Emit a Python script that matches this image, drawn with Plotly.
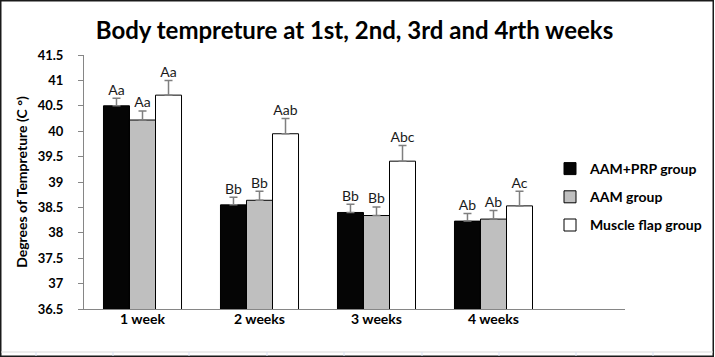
import plotly.graph_objects as go

categories = ["1 week", "2 weeks", "3 weeks", "4 weeks"]
series_names = ["AAM+PRP group", "AAM group", "Muscle flap group"]
aam_prp = [40.50, 38.55, 38.40, 38.23]
aam = [40.22, 38.64, 38.34, 38.27]
muscle = [40.71, 39.95, 39.41, 38.53]
aam_prp_err = [0.15, 0.15, 0.16, 0.15]
aam_err = [0.18, 0.18, 0.17, 0.17]
muscle_err = [0.29, 0.30, 0.31, 0.29]
aam_prp_lbl = ["Aa", "Bb", "Bb", "Ab"]
aam_lbl = ["Aa", "Bb", "Bb", "Ab"]
muscle_lbl = ["Aa", "Aab", "Abc", "Ac"]
y_ticks = [36.5, 37, 37.5, 38, 38.5, 39, 39.5, 40, 40.5, 41, 41.5]

values = [aam_prp, aam, muscle]
errors = [aam_prp_err, aam_err, muscle_err]
labels = [aam_prp_lbl, aam_lbl, muscle_lbl]
fills = ["#050505", "#BFBFBF", "#FFFFFF"]

FONT = "Lato"
fig = go.Figure()
for i, name in enumerate(series_names):
    fig.add_trace(go.Bar(
        x=categories, y=values[i], name=name,
        offsetgroup=str(i), legendgroup=str(i),
        marker=dict(color=fills[i], line=dict(color="#000000", width=1)),
        error_y=dict(type="data", array=errors[i], symmetric=False,
                     arrayminus=[0] * len(categories),
                     color="#7F7F7F", thickness=1.5, width=4),
    ))
for i, name in enumerate(series_names):
    tops = [v + e for v, e in zip(values[i], errors[i])]
    fig.add_trace(go.Scatter(
        x=categories, y=tops, mode="text", text=labels[i],
        textposition="top center", offsetgroup=str(i),
        textfont=dict(family=FONT, size=14, color="#1a1a1a"),
        showlegend=False, hoverinfo="skip", cliponaxis=False,
    ))

L, R, T, B = 84, 90, 55, 48
W, H = 715, 357
pw, ph = W - L - R, H - T - B

def px(x):
    return (x - L) / pw

def py(y):
    return (H - B - y) / ph

shapes = [
    dict(type="rect", xref="paper", yref="paper",
         x0=px(0.75), x1=px(W - 1.75), y0=py(H - 0.75), y1=py(0.75),
         line=dict(color="#1a1a1a", width=1.5), layer="below"),
    dict(type="line", xref="paper", yref="paper",
         x0=px(1), x1=px(W - 2), y0=py(352), y1=py(352),
         line=dict(color="#D9D9D9", width=1)),
]
for gx in [36, 113, 189, 267, 344, 422, 499, 576, 653]:
    shapes.append(dict(type="line", xref="paper", yref="paper",
                       x0=px(gx), x1=px(gx), y0=py(352), y1=py(356),
                       line=dict(color="#D9E1F2", width=1)))

fig.update_layout(
    width=W, height=H,
    margin=dict(l=L, r=R, t=T, b=B, autoexpand=False),
    paper_bgcolor="white", plot_bgcolor="white",
    barmode="group", bargap=0.333, bargroupgap=0,
    scattermode="group", scattergap=0.333,
    font=dict(family=FONT, color="#000000"),
    title=dict(text="<b>Body tempreture at 1st, 2nd, 3rd and 4rth weeks</b>",
               x=0.5, xref="paper", xanchor="center",
               y=1 - 31 / H, yanchor="middle",
               font=dict(family=FONT, size=24, color="#000000")),
    xaxis=dict(type="category", range=[-0.5, 4.124], showline=True,
               linecolor="#868686", linewidth=1, ticks="", ticklen=0,
               ticklabelstandoff=-3,
               showgrid=False, zeroline=False,
               tickfont=dict(family=FONT, size=14, color="#000000", weight="bold"),
               fixedrange=True),
    yaxis=dict(range=[36.5, 41.5], tickvals=y_ticks,
               ticktext=[f"{t:g}" for t in y_ticks],
               showline=True, linecolor="#868686", linewidth=1,
               ticks="outside", ticklen=5, tickcolor="#868686",
               ticklabelstandoff=12,
               showgrid=False, zeroline=False,
               tickfont=dict(family=FONT, size=13, color="#000000", weight="bold"),
               title=dict(text="<b>Degrees of Tempreture (C °)</b>",
                          font=dict(family=FONT, size=14, color="#000000"),
                          standoff=6),
               fixedrange=True),
    legend=dict(x=px(550), y=py(153), xanchor="left", yanchor="top",
                font=dict(family=FONT, size=14, color="#000000", weight="bold"),
                tracegroupgap=7, itemwidth=30, bgcolor="rgba(0,0,0,0)"),
    shapes=shapes,
)

fig.write_html("out.html",
               config={"displayModeBar": False},
               post_script="document.body.style.margin='0';document.body.style.padding='0';")
